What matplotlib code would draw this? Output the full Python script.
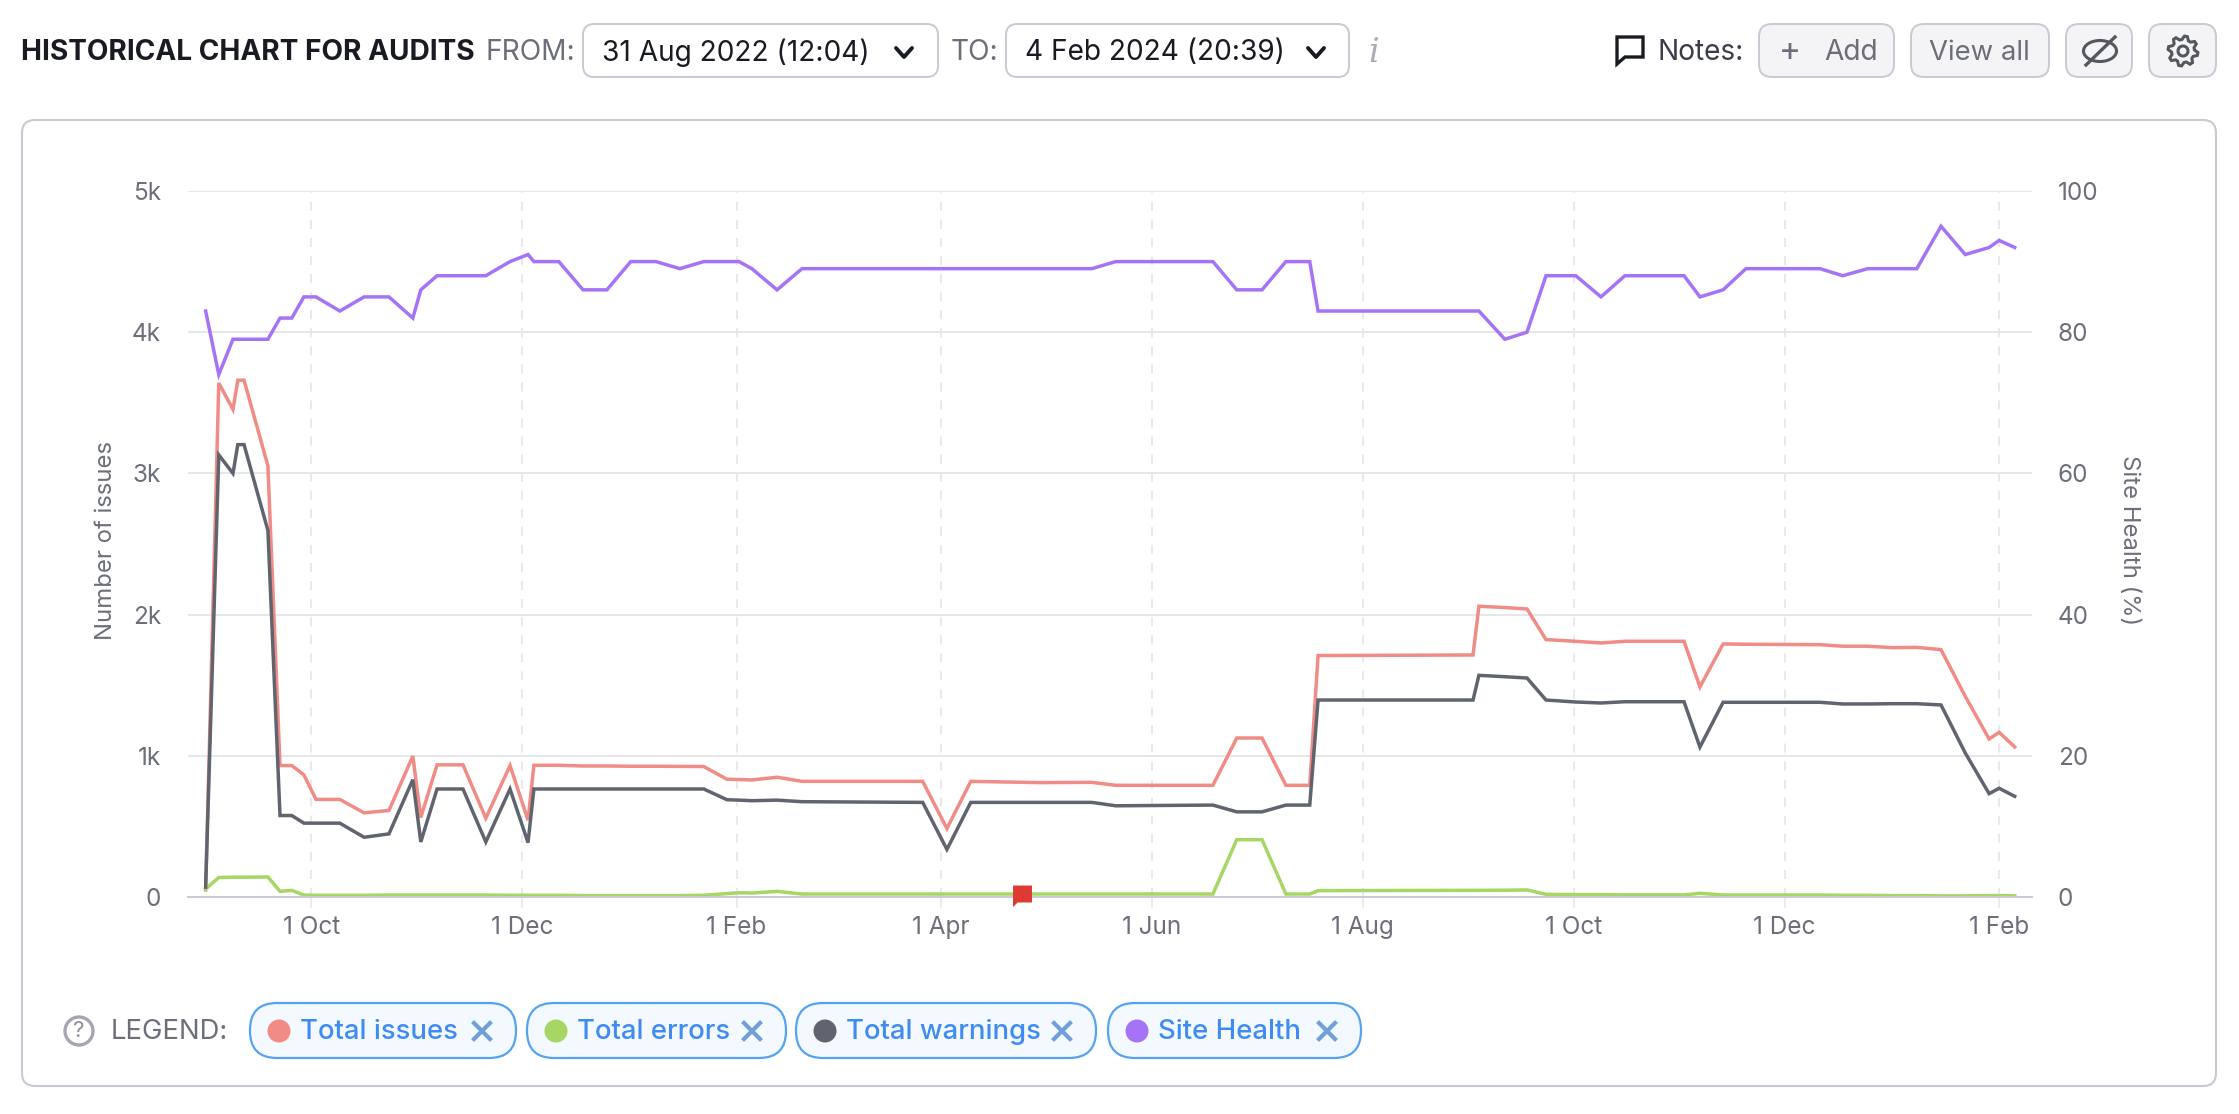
#!/usr/bin/env python3
"""Historical audit chart: issue counts and site health over time, with the page controls."""

import matplotlib

matplotlib.use("Agg")

import matplotlib.dates as mdates
import matplotlib.pyplot as plt
import numpy as np
import pandas as pd
from matplotlib.patches import Circle, Ellipse, FancyBboxPatch, Polygon
from matplotlib.path import Path

plt.rcParams["font.family"] = ["Inter", "DejaVu Sans"]

W, H = 2239, 1114

START = "2022-08-31"

# audit dates, as days after START
audit_day = [
    0.5, 4.3, 8.4, 9.8, 11.6, 18.5, 22, 25.4, 28.9, 32.4, 39.3, 46.3, 53.5, 60.4, 62.7,
    67.4, 74.9, 81.5, 88.5, 93.7, 95.4, 102.6, 109.6, 116.5, 123.4, 130.7, 137.6, 144.5,
    151.2, 154.7, 158.4, 165.7, 172.9, 207.8, 214.8, 221.7, 241.7, 256.7, 263.6, 291.7,
    298.6, 305.9, 312.8, 319.7, 322.1, 366.9, 368.6, 376.1, 382.5, 388, 396.6, 403.9,
    410.8, 427.9, 432.5, 439.2, 445.8, 467.2, 473.8, 481, 488, 495.2, 502.2, 509.2,
    516.1, 519, 523.5,
]
total_issues = [
    50, 3640, 3453, 3660, 3660, 3054, 931, 931, 865, 691, 691, 596, 613, 998, 563,
    936, 936, 558, 931, 544, 933, 933, 928, 928, 926, 926, 925, 924,
    834, 832, 829, 848, 819, 819, 485, 819, 810, 812, 791, 791,
    1126, 1126, 791, 791, 1710, 1714, 2059, 2050, 2040, 1823, 1811, 1799,
    1811, 1811, 1488, 1792, 1790, 1787, 1776, 1776, 1766, 1768, 1752, 1421,
    1119, 1166, 1063,
]
total_errors = [
    57, 138, 140, 140, 140, 142, 40, 47, 14, 12, 12, 12, 14, 14, 14,
    14, 14, 14, 12, 12, 12, 12, 10, 10, 10, 10, 10, 12,
    24, 30, 28, 40, 21, 21, 21, 21, 21, 21, 21, 21,
    406, 406, 21, 21, 45, 47, 47, 48, 50, 19, 17, 17,
    15, 15, 26, 14, 14, 14, 12, 12, 10, 10, 8, 8,
    10, 10, 8,
]
total_warnings = [
    70, 3131, 3000, 3204, 3204, 2596, 577, 577, 523, 523, 523, 423, 447, 831, 390,
    765, 765, 390, 765, 385, 765, 765, 765, 765, 765, 765, 765, 765,
    689, 686, 682, 686, 675, 670, 337, 670, 670, 670, 646, 651,
    603, 603, 651, 651, 1395, 1395, 1570, 1560, 1551, 1395, 1381, 1374,
    1383, 1383, 1062, 1379, 1379, 1379, 1367, 1367, 1369, 1369, 1360, 1020,
    732, 770, 713,
]
site_health = [
    83, 74, 79, 79, 79, 79, 82, 82, 85, 85, 83, 85, 85, 82, 86,
    88, 88, 88, 90, 91, 90, 90, 86, 86, 90, 90, 89, 90,
    90, 90, 89, 86, 89, 89, 89, 89, 89, 89, 90, 90,
    86, 86, 90, 90, 83, 83, 83, 79, 80, 88, 88, 85,
    88, 88, 85, 86, 89, 89, 88, 89, 89, 89, 95, 91,
    92, 93, 92,
]
note_day = [236.5]
note_count = [14]

count_ticks = [0, 1000, 2000, 3000, 4000, 5000]
count_tick_labels = ["0", "1k", "2k", "3k", "4k", "5k"]
health_ticks = [0, 20, 40, 60, 80, 100]
month_ticks = [
    "2022-10-01", "2022-12-01", "2023-02-01", "2023-04-01", "2023-06-01",
    "2023-08-01", "2023-10-01", "2023-12-01", "2024-02-01",
]
month_tick_labels = ["1 Oct", "1 Dec", "1 Feb", "1 Apr", "1 Jun", "1 Aug", "1 Oct", "1 Dec", "1 Feb"]

legend_labels = ["Total issues", "Total errors", "Total warnings", "Site Health"]
legend_colors = ["#F08C85", "#A6D664", "#60646F", "#A574F6"]

TEXT_GRAY = "#6C6E79"
BORDER = "#C8CAD3"
GRID = "#E6E7EA"


def px_rect(x0, y0):
    return x0 / W, 1 - y0 / H


def round_box(ui, x0, y0, x1, y1, r, fc, ec, lw=1.4):
    ui.add_patch(FancyBboxPatch((x0, y0), x1 - x0, y1 - y0, boxstyle=f"round,pad=0,rounding_size={r}",
                                fc=fc, ec=ec, lw=lw))


def label(ui, x, y, s, size=20.2, color="#191B23", ha="left", **kw):
    ui.text(x, y, s, fontsize=size, color=color, ha=ha, va="center", **kw)


def chevron(ui, x, y):
    ui.plot([x - 8, x, x + 8], [y - 4, y + 5, y - 4], color="#191B23", lw=2.8, solid_capstyle="round")


def draw_controls(ui):
    # header row
    label(ui, 21, 53, "HISTORICAL CHART FOR AUDITS", size=20.2, weight="bold")
    label(ui, 486, 53, "FROM:", color=TEXT_GRAY)
    round_box(ui, 583, 24, 938, 77, 11, "white", BORDER)
    label(ui, 602, 53, "31 Aug 2022 (12:04)")
    chevron(ui, 904, 52)
    label(ui, 951, 53, "TO:", color=TEXT_GRAY)
    round_box(ui, 1006, 24, 1349, 77, 11, "white", BORDER)
    label(ui, 1025, 53, "4 Feb 2024 (20:39)")
    chevron(ui, 1316, 52)
    label(ui, 1374, 53, "i", size=24, color="#A9ABB6", ha="center", style="italic", family="DejaVu Serif")

    # notes bubble
    ui.add_patch(Polygon([(1617, 37), (1643, 37), (1643, 57), (1625, 57), (1617, 64)], closed=True,
                         fc="none", ec="#191B23", lw=2.4))
    label(ui, 1657, 53, "Notes:", color="#3B3E4A")
    round_box(ui, 1759, 24, 1894, 77, 13, "#F4F4F6", BORDER)
    label(ui, 1790, 52, "+", size=24, color=TEXT_GRAY, ha="center")
    label(ui, 1824, 53, "Add", color=TEXT_GRAY)
    round_box(ui, 1911, 24, 2049, 77, 13, "#F4F4F6", BORDER)
    label(ui, 1929, 53, "View all", size=19.8, color=TEXT_GRAY)

    # hide-notes button
    round_box(ui, 2066, 24, 2132, 77, 13, "#F4F4F6", BORDER)
    ui.add_patch(Ellipse((2100, 51), 33, 21, fc="none", ec="#55575F", lw=2.2))
    ui.plot([2086, 2115], [65, 37], color="#55575F", lw=2.4)

    # settings button
    round_box(ui, 2149, 24, 2216, 77, 13, "#F4F4F6", BORDER)
    angle = np.linspace(0, 2 * np.pi, 33)[:-1]
    radius = np.tile([15, 15, 11.5, 11.5], 8)
    ui.add_patch(Polygon(np.column_stack([2183 + radius * np.cos(angle + 0.1), 51 + radius * np.sin(angle + 0.1)]),
                         closed=True, fc="none", ec="#55575F", lw=2.2))
    ui.add_patch(Circle((2183, 51), 5, fc="none", ec="#55575F", lw=2.2))

    # chart card
    round_box(ui, 22, 120, 2216, 1086, 13, "white", BORDER, lw=1.5)

    # legend row
    ui.add_patch(Circle((79, 1031), 14, fc="white", ec="#A5A7B0", lw=2.4))
    label(ui, 79, 1031, "?", size=16, color="#8C8E98", ha="center")
    label(ui, 111, 1032, "LEGEND:", size=19.8, color=TEXT_GRAY)
    pill_left = [250, 527, 796, 1108]
    pill_right = [516, 786, 1096, 1361]
    for name, color, x0, x1 in zip(legend_labels, legend_colors, pill_left, pill_right):
        round_box(ui, x0, 1003, x1, 1058, 27, "#F4F9FF", "#55A3F0", lw=1.6)
        ui.add_patch(Circle((x0 + 29, 1031), 11.5, fc=color, ec="none"))
        label(ui, x0 + 50, 1032, name, size=19.8, color="#3E8BF2", weight="medium")
        ui.plot([x1 - 42, x1 - 26], [1023, 1039], color="#6FA0DA", lw=3)
        ui.plot([x1 - 42, x1 - 26], [1039, 1023], color="#6FA0DA", lw=3)


def main():
    fig = plt.figure(figsize=(W / 100, H / 100), dpi=100, facecolor="white")

    ui = fig.add_axes([0, 0, 1, 1], zorder=0)
    ui.set_xlim(0, W)
    ui.set_ylim(H, 0)
    ui.axis("off")
    draw_controls(ui)

    left, top = px_rect(188, 191)
    right, bottom = px_rect(2032, 897)
    ax = fig.add_axes([left, bottom, right - left, top - bottom], zorder=1)
    ax.patch.set_alpha(0)

    dates = pd.Timestamp(START) + pd.to_timedelta(audit_day, unit="D")
    line_style = dict(lw=2.5, solid_joinstyle="miter")
    ax.plot(dates, total_issues, color=legend_colors[0], **line_style)
    ax.plot(dates, total_errors, color=legend_colors[1], **line_style)
    ax.plot(dates, total_warnings, color=legend_colors[2], **line_style)

    # note flag sitting on the date axis
    flag = Path([(-9.5, 10), (9.5, 10), (9.5, -7), (-5, -7), (-9.5, -11.7), (-9.5, 10)], closed=True)
    note_dates = pd.Timestamp(START) + pd.to_timedelta(note_day, unit="D")
    ax.plot(note_dates, note_count, ls="none", marker=flag, ms=16.8, mfc="#DC3A32", mec="none", zorder=5, clip_on=False)

    ax.set_xlim(pd.Timestamp(START) + pd.Timedelta(days=-4.6), pd.Timestamp(START) + pd.Timedelta(days=528.5))
    ax.set_ylim(0, 5000)
    ax.set_yticks(count_ticks, count_tick_labels)
    ax.set_xticks(mdates.date2num(pd.to_datetime(month_ticks)), month_tick_labels)
    ax.set_ylabel("Number of issues", fontsize=17.2, color=TEXT_GRAY)
    ax.yaxis.set_label_coords((117 - 188) / (2032 - 188), 0.505)

    ax.grid(axis="y", color=GRID, lw=1.4)
    ax.grid(axis="x", color="#E6E7EC", lw=1.3, ls=(0, (5, 5)))
    ax.set_axisbelow(True)
    ax.tick_params(axis="y", length=0, pad=19.5, labelsize=17.5, labelcolor=TEXT_GRAY)
    ax.tick_params(axis="x", length=8, width=1.2, color="#E6E7EC", pad=6, labelsize=17.5, labelcolor=TEXT_GRAY)
    for side in ["top", "left", "right"]:
        ax.spines[side].set_visible(False)
    ax.spines["bottom"].set_color("#C9CCD6")
    ax.spines["bottom"].set_linewidth(1.4)

    ax2 = ax.twinx()
    ax2.plot(dates, site_health, color=legend_colors[3], **line_style)
    ax2.set_ylim(0, 100)
    ax2.set_yticks(health_ticks)
    ax2.tick_params(axis="y", length=0, pad=18.5, labelsize=17.5, labelcolor=TEXT_GRAY)
    ax2.set_ylabel("Site Health (%)", fontsize=17.2, color=TEXT_GRAY, rotation=270)
    ax2.yaxis.set_label_coords((2140 - 188) / (2032 - 188), 0.505)
    for spine in ax2.spines.values():
        spine.set_visible(False)

    fig.savefig("out.png", dpi=100)


if __name__ == "__main__":
    main()
